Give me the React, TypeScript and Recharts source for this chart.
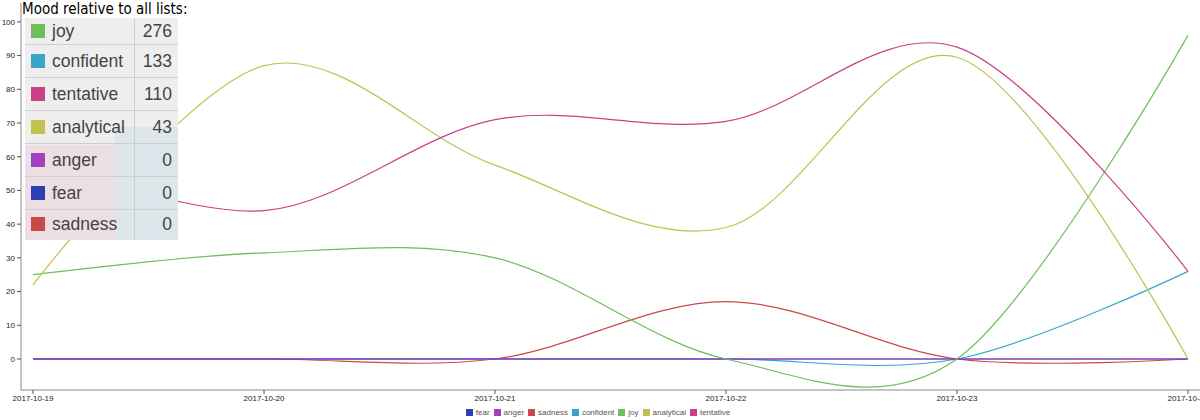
import { LineChart, Line, XAxis, YAxis, Legend } from 'recharts';

const dates = ['2017-10-19', '2017-10-20', '2017-10-21', '2017-10-22', '2017-10-23', '2017-10-24'];
const fear = [0, 0, 0, 0, 0, 0];
const anger = [0, 0, 0, 0, 0, 0];
const sadness = [0, 0, 0, 17, 0, 0];
const confident = [0, 0, 0, 0, 0, 26];
const joy = [25, 31.5, 30, 0, 0, 96];
const analytical = [22, 87, 57.5, 39, 89.5, 0];
const tentative = [60, 44, 71, 70.5, 92.5, 26];

const yTicks = [0, 10, 20, 30, 40, 50, 60, 70, 80, 90, 100];

// totals shown in the overlay box
const moodNames = ['joy', 'confident', 'tentative', 'analytical', 'anger', 'fear', 'sadness'];
const moodTotals = [276, 133, 110, 43, 0, 0, 0];

const legendOrder = ['fear', 'anger', 'sadness', 'confident', 'joy', 'analytical', 'tentative'];
const drawOrder = ['sadness', 'confident', 'fear', 'anger', 'joy', 'analytical', 'tentative'];

const colors: Record<string, string> = {
  fear: '#2d3fb3',
  anger: '#a43fc0',
  sadness: '#c94a4a',
  confident: '#37a5c8',
  joy: '#6cbf5a',
  analytical: '#c3c04f',
  tentative: '#c8418a',
};

const series: Record<string, number[]> = { fear, anger, sadness, confident, joy, analytical, tentative };

const data = dates.map((d, i) => {
  const row: Record<string, string | number> = { date: d };
  for (const k of legendOrder) row[k] = series[k][i];
  return row;
});

// cardinal spline (tension 0), same as d3.curveCardinal
function cardinal(context: any) {
  const k = 1 / 6;
  let x0 = NaN, y0 = NaN, x1 = NaN, y1 = NaN, x2 = NaN, y2 = NaN;
  let pt = 0;
  const bez = (x: number, y: number) =>
    context.bezierCurveTo(x1 + k * (x2 - x0), y1 + k * (y2 - y0), x2 + k * (x1 - x), y2 + k * (y1 - y), x2, y2);
  return {
    areaStart() {},
    areaEnd() {},
    lineStart() {
      x0 = x1 = x2 = y0 = y1 = y2 = NaN;
      pt = 0;
    },
    lineEnd() {
      if (pt === 2) context.lineTo(x2, y2);
      else if (pt === 3) bez(x1, y1);
    },
    point(x: number, y: number) {
      x = +x;
      y = +y;
      if (pt === 0) {
        pt = 1;
        context.moveTo(x, y);
      } else if (pt === 1) {
        pt = 2;
        x1 = x;
        y1 = y;
      } else {
        pt = 3;
        bez(x, y);
      }
      x0 = x1; x1 = x2; x2 = x;
      y0 = y1; y1 = y2; y2 = y;
    },
  };
}

const sans = '"Liberation Sans", Arial, sans-serif';

function BottomLegend() {
  return (
    <ul style={{ margin: 0, padding: 0, textAlign: 'center', fontFamily: sans, fontSize: 8, lineHeight: '14px', color: '#555' }}>
      {legendOrder.map((k) => (
        <li key={k} style={{ display: 'inline-block', marginRight: 4 }}>
          <span style={{ display: 'inline-block', width: 7, height: 7, background: colors[k], marginRight: 3, verticalAlign: -1 }} />
          {k}
        </li>
      ))}
    </ul>
  );
}

function MoodBox() {
  const rowTop = (i: number) => (i === 0 ? 18 : 45 + (i - 1) * 33);
  const rowH = (i: number) => (i === 0 ? 27 : i === 6 ? 30 : 33);
  return (
    <>
      <div style={{ position: 'absolute', left: 22, top: 1, fontFamily: '"DejaVu Sans Condensed", "DejaVu Sans", sans-serif', fontSize: 15, color: '#000', lineHeight: '17px', whiteSpace: 'nowrap' }}>
        Mood relative to all lists:
      </div>
      <div style={{ position: 'absolute', left: 25, top: 18, width: 153, height: 222, background: '#eeeeee' }} />
      <div style={{ position: 'absolute', left: 25, top: 145, width: 89, height: 95, background: '#ecdfe4' }} />
      <div style={{ position: 'absolute', left: 114, top: 127, width: 64, height: 113, background: '#dde6ea' }} />
      <div style={{ position: 'absolute', left: 134, top: 18, width: 1, height: 222, background: '#cfcfcf' }} />
      {moodNames.map((name, i) => (
        <div key={name} style={{ position: 'absolute', left: 25, top: rowTop(i), width: 153, height: rowH(i), fontFamily: sans, fontSize: 17.5, color: '#444', borderBottom: i < 6 ? '1px solid #cfcfcf' : 'none', boxSizing: 'border-box' }}>
          <span style={{ position: 'absolute', left: 6, top: (rowH(i) - 14) / 2 - 1, width: 14, height: 14, background: colors[name] }} />
          <span style={{ position: 'absolute', left: 27, top: 0, lineHeight: `${rowH(i) - 1}px` }}>{name}</span>
          <span style={{ position: 'absolute', right: 6, top: 0, lineHeight: `${rowH(i) - 1}px` }}>{moodTotals[i]}</span>
        </div>
      ))}
    </>
  );
}

export default function App() {
  return (
    <div style={{ position: 'absolute', left: 0, top: 0, width: 1200, height: 420, overflow: 'hidden', background: '#fff' }}>
      <LineChart width={1200} height={420} data={data} margin={{ top: 3, right: 0, bottom: 0, left: 0 }}>
        <XAxis
          dataKey="date"
          interval={0}
          padding={{ left: 12, right: 12 }}
          height={16}
          tickSize={4}
          tickMargin={1}
          axisLine={{ stroke: '#888' }}
          tickLine={{ stroke: '#555' }}
          tick={{ fontSize: 8, fill: '#222', fontFamily: sans }}
        />
        <YAxis
          width={21}
          domain={[-9.2, 105.6]}
          ticks={yTicks}
          allowDataOverflow
          tickSize={4}
          tickMargin={2}
          axisLine={{ stroke: '#888' }}
          tickLine={{ stroke: '#555' }}
          tick={{ fontSize: 8, fill: '#222', fontFamily: sans }}
        />
        {drawOrder.map((k) => (
          <Line key={k} type={cardinal as any} dataKey={k} stroke={colors[k]} strokeWidth={1.2} dot={false} activeDot={false} isAnimationActive={false} />
        ))}
        <Legend height={14} content={() => <BottomLegend />} />
      </LineChart>
      <MoodBox />
    </div>
  );
}
